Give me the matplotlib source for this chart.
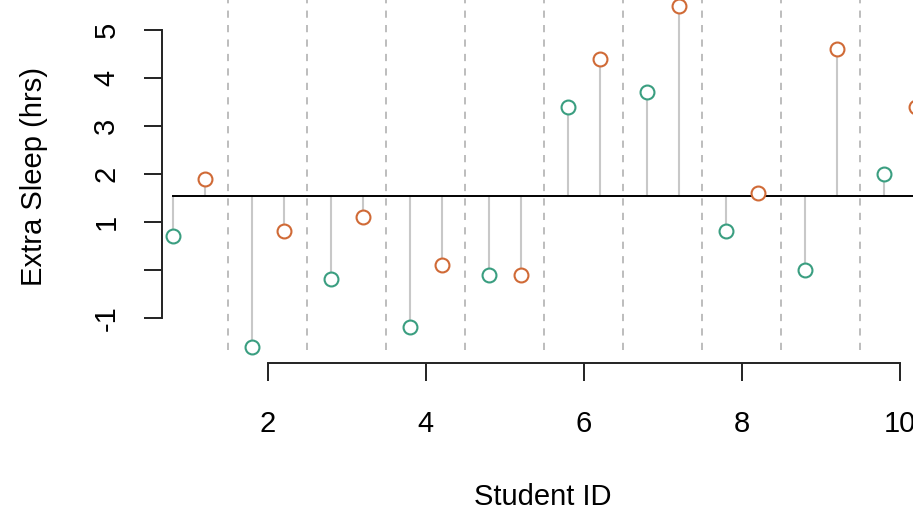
import matplotlib
matplotlib.use("Agg")
from matplotlib import pyplot as plt
import numpy as np

# R "sleep" data: extra sleep for 10 students under two drugs
student_ids = [1, 2, 3, 4, 5, 6, 7, 8, 9, 10]
group1 = [0.7, -1.6, -0.2, -1.2, -0.1, 3.4, 3.7, 0.8, 0.0, 2.0]
group2 = [1.9, 0.8, 1.1, 0.1, -0.1, 4.4, 5.5, 1.6, 4.6, 3.4]
y_ticks = [-1, 0, 1, 2, 3, 4, 5]
y_labels = ["-1", "", "1", "2", "3", "4", "5"]
x_ticks = [2, 4, 6, 8, 10]

col1, col2 = "#3a9e80", "#d06a36"
plt.rcParams["font.family"] = ["Liberation Sans", "DejaVu Sans"]

W, H = 913, 514
fig = plt.figure(figsize=(W / 100, H / 100), dpi=100)
ax = fig.add_axes([162 / W, 1 - 350 / H, 1 - 162 / W, 350 / H])

ids = np.array(student_ids)
x1 = ids - 0.2
x2 = ids + 0.2
grand_mean = np.mean(group1 + group2)

# dashed separators between students
for b in ids[:-1] + 0.5:
    ax.axvline(b, color="#b8b8b8", ls=(0, (4, 4)), lw=1.3, zorder=1)

# lollipop sticks from the overall mean
xs = np.concatenate([x1, x2])
ys = np.array(group1 + group2)
ax.vlines(xs, grand_mean, ys, color="#c8c8c8", lw=1.5, zorder=2)
ax.plot([x1[0], 10.4], [grand_mean, grand_mean], color="black", lw=1.4, zorder=3)

ax.plot(x1, group1, "o", mfc="white", mec=col1, mew=1.5, ms=10, zorder=4, clip_on=False)
ax.plot(x2, group2, "o", mfc="white", mec=col2, mew=1.5, ms=10, zorder=4, clip_on=False)

ax.set_xlim(0.66, 2 + (W - 268) / 79)
ax.set_ylim(-1.67, 5.625)

for s in ["top", "right"]:
    ax.spines[s].set_visible(False)
ax.spines["left"].set_bounds(-1, 5)
ax.spines["bottom"].set_bounds(2, 10)
ax.spines["bottom"].set_position(("outward", 9))
ax.spines["left"].set_linewidth(1.4)
ax.spines["bottom"].set_linewidth(1.4)
ax.spines["left"].set_color("#222222")
ax.spines["bottom"].set_color("#222222")

ax.set_yticks(y_ticks)
ax.set_yticklabels(y_labels, rotation=90, va="center")
ax.set_xticks(x_ticks)
ax.tick_params(axis="both", length=13, width=1.4, color="#222222", labelsize=21)
ax.tick_params(axis="y", pad=17)
ax.tick_params(axis="x", pad=21)

fig.text(543 / W, 1 - 497 / H, "Student ID", ha="center", va="center", fontsize=21)
fig.text(34 / W, 1 - 176 / H, "Extra Sleep (hrs)", ha="center", va="center",
         rotation=90, fontsize=21)

fig.savefig("out.png", dpi=100)
